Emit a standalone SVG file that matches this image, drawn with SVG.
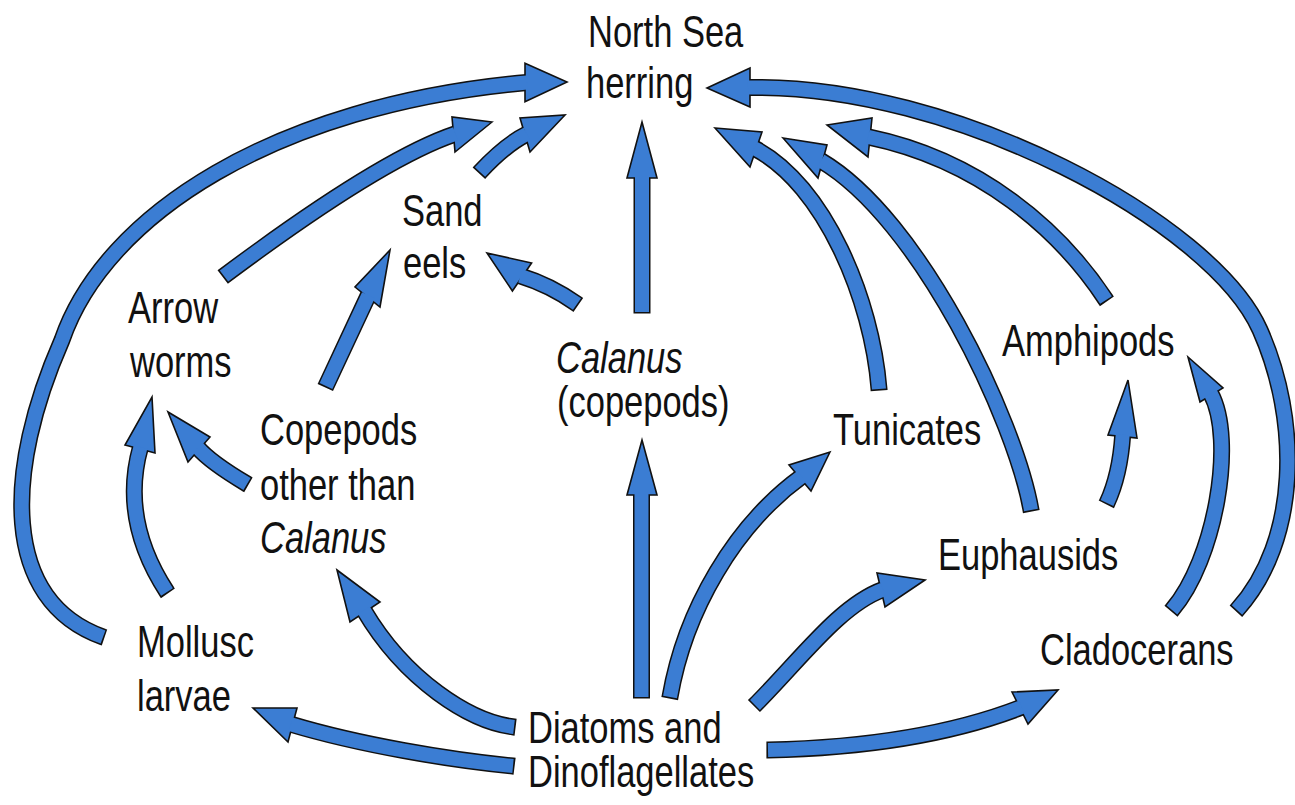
<svg xmlns="http://www.w3.org/2000/svg" width="1295" height="805" viewBox="0 0 1295 805">
<style>
.o{fill:none;stroke:#111;stroke-width:17;stroke-linecap:butt}
.i{fill:none;stroke:#3b7dd3;stroke-width:14;stroke-linecap:butt}
.h{fill:#3b7dd3;stroke:#111;stroke-width:1.6;stroke-linejoin:miter}
.l{font-family:"Liberation Sans",Arial,Helvetica,sans-serif;font-size:34.5px;fill:#111}
.it{font-style:italic}
</style>
<rect width="1295" height="805" fill="#fff"/>
<g id="connectors">
  <g id="a-mollusc-herring"><path class="o" d="M104.5,637.5 L103,637 C0,600 5,470 62,340 C105,215 275,105 527,82.5"/><polygon class="h" points="567,82 525,101.7 525,63.3"/><path class="i" d="M103,637 C0,600 5,470 62,340 C105,215 275,105 527,82.5"/></g>
  <g id="a-arrow-herring"><path class="o" d="M222.7,277 L224,276 Q380.5,159 455.4,133.9"/><polygon class="h" points="492,122 455,152 452,117"/><path class="i" d="M224,276 Q380.5,159 455.4,133.9"/></g>
  <g id="a-sand-herring"><path class="o" d="M478.9,173.2 L480,172 Q505,145 526.8,134.1"/><polygon class="h" points="565,115 530,152 520,118"/><path class="i" d="M480,172 Q505,145 526.8,134.1"/></g>
  <g id="a-calanus-herring"><path class="o" d="M642,313.5 V176"/><polygon class="h" points="642,122 657,178 627,178"/><path class="i" d="M642,312 V176"/></g>
  <g id="a-calanus-sand"><path class="o" d="M578.3,304.9 L577,304 Q550,285 520.3,275.9"/><polygon class="h" points="487,253 531.6,263 512.4,291"/><path class="i" d="M577,304 Q550,285 520.3,275.9"/></g>
  <g id="a-copepods-sand"><path class="o" d="M325.3,387.5 L326,386 Q345,345 368.4,295.2"/><polygon class="h" points="390,250 380,307 355,287"/><path class="i" d="M326,386 Q345,345 368.4,295.2"/></g>
  <g id="a-copepods-arrow"><path class="o" d="M248.4,484.8 L247,484 Q210,462 197.7,447.5"/><polygon class="h" points="168,412 188,462 210,437"/><path class="i" d="M247,484 Q210,462 197.7,447.5"/></g>
  <g id="a-mollusc-arrow"><path class="o" d="M167.9,593.3 L167,592 Q120,520 140.5,447"/><polygon class="h" points="152,397 155,453 125,445"/><path class="i" d="M167,592 Q120,520 140.5,447"/></g>
  <g id="a-diatoms-copepods"><path class="o" d="M515.6,727.2 L514,727 C470,722 405,680 363.9,610.3"/><polygon class="h" points="337,570 380,602 350,622"/><path class="i" d="M514,727 C470,722 405,680 363.9,610.3"/></g>
  <g id="a-diatoms-mollusc"><path class="o" d="M514.6,766.2 L513,766 C450,760 360,745 290.7,724.2"/><polygon class="h" points="253,708 297,708 288,742"/><path class="i" d="M513,766 C450,760 360,745 290.7,724.2"/></g>
  <g id="a-diatoms-calanus"><path class="o" d="M641.5,698.5 V493"/><polygon class="h" points="642,440 657,495 627,495"/><path class="i" d="M641.5,697 V493"/></g>
  <g id="a-diatoms-tunicates"><path class="o" d="M669.7,698.6 L670,697 C685,610 735,525 801.5,476.7"/><polygon class="h" points="830,452 811,491 789,465"/><path class="i" d="M670,697 C685,610 735,525 801.5,476.7"/></g>
  <g id="a-diatoms-euphausids"><path class="o" d="M753.9,706.1 L755,705 C800,660 840,605 883,589.6"/><polygon class="h" points="925,580 885,607 877,573"/><path class="i" d="M755,705 C800,660 840,605 883,589.6"/></g>
  <g id="a-diatoms-cladocerans"><path class="o" d="M766.4,750 L768,750 C860,748 950,735 1021.8,707.1"/><polygon class="h" points="1058,690 1028,724 1012,692"/><path class="i" d="M768,750 C860,748 950,735 1021.8,707.1"/></g>
  <g id="a-tunicates-herring"><path class="o" d="M879.1,390.6 L879,389 C872,300 825,185 754.2,148.1"/><polygon class="h" points="715,128 762,132 750,167"/><path class="i" d="M879,389 C872,300 825,185 754.2,148.1"/></g>
  <g id="a-euphausids-herring"><path class="o" d="M1031.3,511.6 L1031,510 C1015,420 920,219 820.9,160.7"/><polygon class="h" points="783,138 827,145 818,178"/><path class="i" d="M1031,510 C1015,420 920,219 820.9,160.7"/></g>
  <g id="a-amphipods-herring"><path class="o" d="M1106.9,301.3 L1106,300 C1060,230 980,160 868.1,136.9"/><polygon class="h" points="827,125 872,118 868,157"/><path class="i" d="M1106,300 C1060,230 980,160 868.1,136.9"/></g>
  <g id="a-cladocerans-herring"><path class="o" d="M1235.9,611.2 L1237,610 C1300,540 1300,420 1260,330 C1212,222 952,83 748,87.5"/><polygon class="h" points="707,88 750,68 750,107"/><path class="i" d="M1237,610 C1300,540 1300,420 1260,330 C1212,222 952,83 748,87.5"/></g>
  <g id="a-euphausids-amphipods"><path class="o" d="M1106.3,504.4 L1107,503 Q1120,475 1122.7,434.7"/><polygon class="h" points="1128,380 1137,438 1108,435"/><path class="i" d="M1107,503 Q1120,475 1122.7,434.7"/></g>
  <g id="a-cladocerans-amphipods"><path class="o" d="M1171,611.2 L1172,610 C1215,560 1236,440 1210.7,393.3"/><polygon class="h" points="1188,357 1223,388 1200,402"/><path class="i" d="M1172,610 C1215,560 1236,440 1210.7,393.3"/></g>
</g>
<g id="herring"><text class="l" transform="translate(588 47) scale(1 1.28)"><tspan x="0" y="0">North Sea</tspan><tspan x="-2" y="40">herring</tspan></text></g>
<g id="sandeels"><text class="l" transform="translate(402 226) scale(1 1.28)"><tspan x="0" y="0">Sand</tspan><tspan x="1" y="41">eels</tspan></text></g>
<g id="arrowworms"><text class="l" transform="translate(128 323) scale(1 1.28)"><tspan x="0" y="0">Arrow</tspan><tspan x="2" y="42">worms</tspan></text></g>
<g id="calanus"><text class="l" transform="translate(556 373) scale(1 1.28)"><tspan x="0" y="0" class="it">Calanus</tspan><tspan x="1" y="34.4">(copepods)</tspan></text></g>
<g id="copepods"><text class="l" transform="translate(260 445) scale(1 1.28)"><tspan x="0" y="0">Copepods</tspan><tspan x="0" y="43">other than</tspan><tspan x="0" y="84.4" class="it">Calanus</tspan></text></g>
<g id="tunicates"><text class="l" transform="translate(833 445) scale(1 1.28)">Tunicates</text></g>
<g id="amphipods"><text class="l" transform="translate(1002 356) scale(1 1.28)">Amphipods</text></g>
<g id="euphausids"><text class="l" transform="translate(938 570) scale(1 1.28)">Euphausids</text></g>
<g id="cladocerans"><text class="l" transform="translate(1040 665) scale(1 1.28)">Cladocerans</text></g>
<g id="mollusc"><text class="l" transform="translate(137 657) scale(1 1.28)"><tspan x="0" y="0">Mollusc</tspan><tspan x="0" y="42.2">larvae</tspan></text></g>
<g id="diatoms"><text class="l" transform="translate(528 743) scale(1 1.28)"><tspan x="0" y="0">Diatoms and</tspan><tspan x="0" y="34.4">Dinoflagellates</tspan></text></g>
</svg>
